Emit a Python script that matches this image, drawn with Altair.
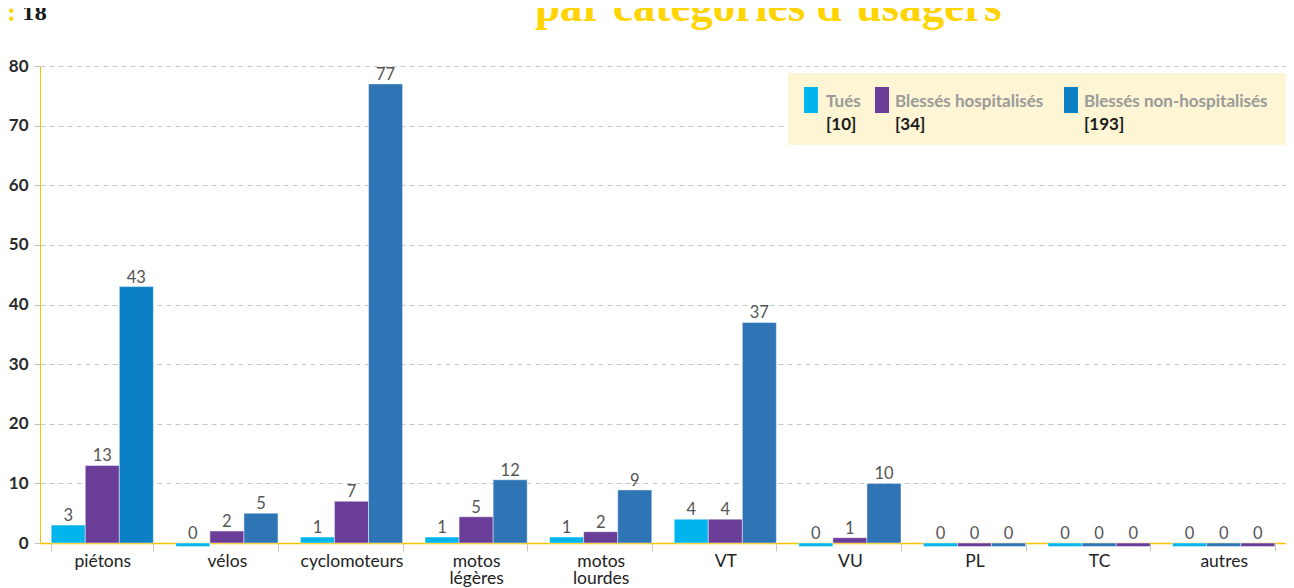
import altair as alt
import pandas as pd

# ---------------- data ----------------
categories = ["piétons", "vélos", "cyclomoteurs", "motos légères", "motos lourdes",
              "VT", "VU", "PL", "TC", "autres"]
series = ["Tués", "Blessés hospitalisés", "Blessés non-hospitalisés"]
totals = [10, 34, 193]

# printed values
tues = [3, 0, 1, 1, 1, 4, 0, 0, 0, 0]
hosp = [13, 2, 7, 5, 2, 4, 1, 0, 0, 0]
nonhosp = [43, 5, 77, 12, 9, 37, 10, 0, 0, 0]

# bar heights as drawn in the picture (zeros are drawn as thin bars under the axis)
tues_h = [3, -0.6, 1, 1, 1, 4, -0.6, -0.6, -0.6, -0.6]
hosp_h = [13, 2, 7, 4.4, 1.9, 4, 0.9, -0.6, -0.6, -0.6]
nonhosp_h = [43, 5, 77, 10.6, 8.9, 37, 10, -0.6, -0.6, -0.6]

# categories where the non-hospitalised bar is drawn before the hospitalised one
swapped = ["TC", "autres"]

# ---------------- styles ----------------
C_TUES = "#00b5ec"
C_HOSP = "#6a3d98"
C_NONH = "#2f74b4"
C_NONH_PIETONS = "#0b80c5"
YELLOW = "#f5c400"
TITLE_YELLOW = "#ffd400"
FONT = "Lato"

W, H = 1246, 477

rows = []
for i, c in enumerate(categories):
    for s_i, (s, vals, hs) in enumerate(zip(series, [tues, hosp, nonhosp],
                                            [tues_h, hosp_h, nonhosp_h])):
        slot = s_i
        if c in swapped and s_i > 0:
            slot = 3 - s_i
        rows.append(dict(category=c, series=s, value=vals[i], height=hs[i],
                         slot=slot, labely=max(hs[i], 0)))
df = pd.DataFrame(rows)

x_enc = alt.X("category:N", sort=categories,
              scale=alt.Scale(paddingInner=0.18, paddingOuter=0.09),
              axis=alt.Axis(title=None, labelAngle=0, tickBand="extent",
                            domainColor=YELLOW, domainWidth=1.5,
                            tickColor="#c8c8c8", tickSize=8,
                            labelFont=FONT, labelFontSize=17.5, labelColor="#222",
                            labelPadding=1, labelLineHeight=17,
                            labelExpr="split(datum.label, ' ')"))
xoff = alt.XOffset("slot:O", scale=alt.Scale(paddingInner=0, paddingOuter=0))

y_axis = alt.Axis(title=None, values=list(range(0, 81, 10)), grid=True,
                  gridDash=[5, 4], gridColor="#c8c8c8", gridWidth=1,
                  domainColor=YELLOW, domainWidth=1,
                  tickColor="#c0c0c0", tickSize=6,
                  labelFont=FONT, labelFontSize=17, labelFontWeight="bold",
                  labelColor="#2a2a2a", labelPadding=6)

bars = alt.Chart(df).mark_bar(stroke="#ffffff", strokeOpacity=0.45, strokeWidth=1).encode(
    x=x_enc,
    xOffset=xoff,
    y=alt.Y("height:Q", scale=alt.Scale(domain=[0, 80], nice=False), axis=y_axis),
    y2=alt.datum(0),
    color=alt.condition(
        "datum.category == 'piétons' && datum.series == 'Blessés non-hospitalisés'",
        alt.value(C_NONH_PIETONS),
        alt.Color("series:N", scale=alt.Scale(domain=series,
                                              range=[C_TUES, C_HOSP, C_NONH]),
                  legend=None)),
)

labels = alt.Chart(df).mark_text(font=FONT, fontSize=16.5, color="#555",
                                 baseline="alphabetic", dy=-4).encode(
    x=alt.X("category:N", sort=categories),
    xOffset=alt.XOffset("slot:O"),
    y=alt.Y("labely:Q"),
    text=alt.Text("value:Q"),
)

layers = [bars, labels]

one = pd.DataFrame({"k": [1]})

# legend box (pixel layout relative to the plot area)
layers.append(alt.Chart(one).mark_rect(color="#fdf5d3").encode(
    x=alt.value(748), x2=alt.value(1246), y=alt.value(7), y2=alt.value(79)))
leg_sw_x = [764, 835, 1024]
leg_txt_x = [786, 855, 1044]
leg_cols = [C_TUES, C_HOSP, C_NONH_PIETONS]
for i in range(3):
    layers.append(alt.Chart(one).mark_rect(color=leg_cols[i]).encode(
        x=alt.value(leg_sw_x[i]), x2=alt.value(leg_sw_x[i] + 14),
        y=alt.value(21), y2=alt.value(47)))
    layers.append(alt.Chart(one).mark_text(
        font=FONT, fontSize=17, fontWeight="bold", color="#9a9a9a",
        align="left", baseline="alphabetic").encode(
        x=alt.value(leg_txt_x[i]), y=alt.value(41), text=alt.value(series[i])))
    layers.append(alt.Chart(one).mark_text(
        font=FONT, fontSize=17, fontWeight="bold", color="#1a1a1a",
        align="left", baseline="alphabetic").encode(
        x=alt.value(leg_txt_x[i]), y=alt.value(64),
        text=alt.value(f"[{totals[i]}]")))

# page header (cut at the top of the picture)
layers.append(alt.Chart(one).mark_text(
    font="Liberation Serif", fontSize=45, fontWeight="bold", color=TITLE_YELLOW,
    align="left", baseline="alphabetic").encode(
    x=alt.value(495), y=alt.value(-45), text=alt.value("par catégories d’usagers")))
layers.append(alt.Chart(one).mark_text(
    font="DejaVu Serif", fontSize=24, fontWeight="bold", color=TITLE_YELLOW,
    align="left", baseline="alphabetic").encode(
    x=alt.value(-33), y=alt.value(-45), text=alt.value(":")))
layers.append(alt.Chart(one).mark_text(
    font="DejaVu Serif", fontSize=18, fontWeight="bold", color="#1a1a1a",
    align="left", baseline="alphabetic").encode(
    x=alt.value(-18), y=alt.value(-46), text=alt.value("18")))

chart = alt.layer(*layers).properties(
    width=W, height=H,
    autosize=alt.AutoSizeParams(type="none"),
    padding={"left": 32, "top": 58, "right": 0, "bottom": 50},
).configure_view(stroke=None)

chart.save("out.html", embed_options={"renderer": "svg", "actions": False})
